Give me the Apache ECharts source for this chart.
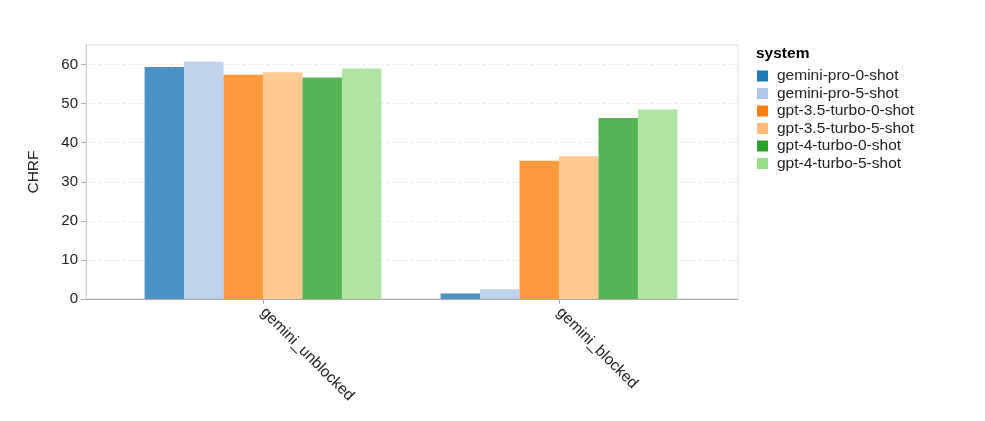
<!DOCTYPE html>
<html>
<head>
<meta charset="utf-8">
<script src="https://cdn.jsdelivr.net/npm/echarts@6/dist/echarts.min.js"></script>
<style>
  html, body { margin: 0; padding: 0; background: #fff; }
  #chart { width: 985px; height: 421px; }
</style>
</head>
<body>
<div id="chart"></div>
<script>
// categories and systems
const categories = ['gemini_unblocked', 'gemini_blocked'];
const systems = [
    'gemini-pro-0-shot', 'gemini-pro-5-shot',
    'gpt-3.5-turbo-0-shot', 'gpt-3.5-turbo-5-shot',
    'gpt-4-turbo-0-shot', 'gpt-4-turbo-5-shot'
];
const colors = ['#1f77b4', '#aec7e8', '#ff7f0e', '#ffbb78', '#2ca02c', '#98df8a'];

// CHRF per system, in category order
const geminiPro0 = [59.4, 1.4];
const geminiPro5 = [60.7, 2.5];
const gpt35Turbo0 = [57.4, 35.4];
const gpt35Turbo5 = [58.0, 36.5];
const gpt4Turbo0 = [56.7, 46.3];
const gpt4Turbo5 = [59.0, 48.5];
const values = [geminiPro0, geminiPro5, gpt35Turbo0, gpt35Turbo5, gpt4Turbo0, gpt4Turbo5];

const yTicks = [0, 10, 20, 30, 40, 50, 60];

const chart = echarts.init(document.getElementById('chart'));
const font = 'Liberation Sans, Arial, Helvetica, sans-serif';

let option = {
    animation: false,
    textStyle: { fontFamily: font },
    title: {
        text: 'system',
        left: 756,
        top: 46,
        padding: 0,
        textStyle: { fontSize: 15.5, fontWeight: 'bold', color: '#000', fontFamily: font }
    },
    legend: {
        orient: 'vertical',
        left: 757,
        top: 68,
        padding: 0,
        icon: 'rect',
        itemWidth: 11,
        itemHeight: 11,
        itemGap: 1.5,
        itemStyle: { opacity: 1 },
        textStyle: { fontSize: 15.5, color: '#222', fontFamily: font, padding: [0, 0, 0, 4] },
        data: systems
    },
    grid: [
        // frame + y axis
        { left: 86, top: 45, width: 652, height: 254, show: true, borderColor: '#ddd', borderWidth: 1 },
        // bars
        { left: 115, top: 45, width: 592, height: 254 }
    ],
    xAxis: [
        {
            gridIndex: 0, type: 'value', min: 0, max: 1,
            axisLine: { show: true, lineStyle: { color: '#aaa' } },
            axisTick: { show: false },
            axisLabel: { show: false },
            splitLine: { show: false }
        },
        {
            gridIndex: 1, type: 'category', data: categories,
            axisLine: { show: false },
            axisTick: { show: true, alignWithLabel: true, length: 5, lineStyle: { color: '#aaa' } },
            axisLabel: { rotate: -45, fontSize: 15.5, color: '#222', margin: 11 }
        }
    ],
    yAxis: [
        {
            gridIndex: 0, type: 'value', min: 0, max: 65, interval: 10,
            name: 'CHRF',
            nameLocation: 'middle',
            nameGap: 44,
            nameRotate: 90,
            nameTextStyle: { fontSize: 15.5, color: '#222' },
            axisLine: { show: true, lineStyle: { color: '#ccc' } },
            axisTick: { show: true, length: 5, lineStyle: { color: '#aaa' }, customValues: yTicks },
            axisLabel: { fontSize: 15, color: '#222', margin: 8, customValues: yTicks },
            splitLine: { show: true, lineStyle: { color: '#eee', type: 'dashed' } }
        },
        { gridIndex: 1, type: 'value', min: 0, max: 65, show: false }
    ],
    series: systems.map((name, i) => ({
        name,
        type: 'bar',
        xAxisIndex: 1,
        yAxisIndex: 1,
        data: values[i],
        barGap: 0,
        barCategoryGap: '20%',
        itemStyle: { color: colors[i], opacity: 0.8 }
    }))
};

chart.setOption(option);
</script>
</body>
</html>
